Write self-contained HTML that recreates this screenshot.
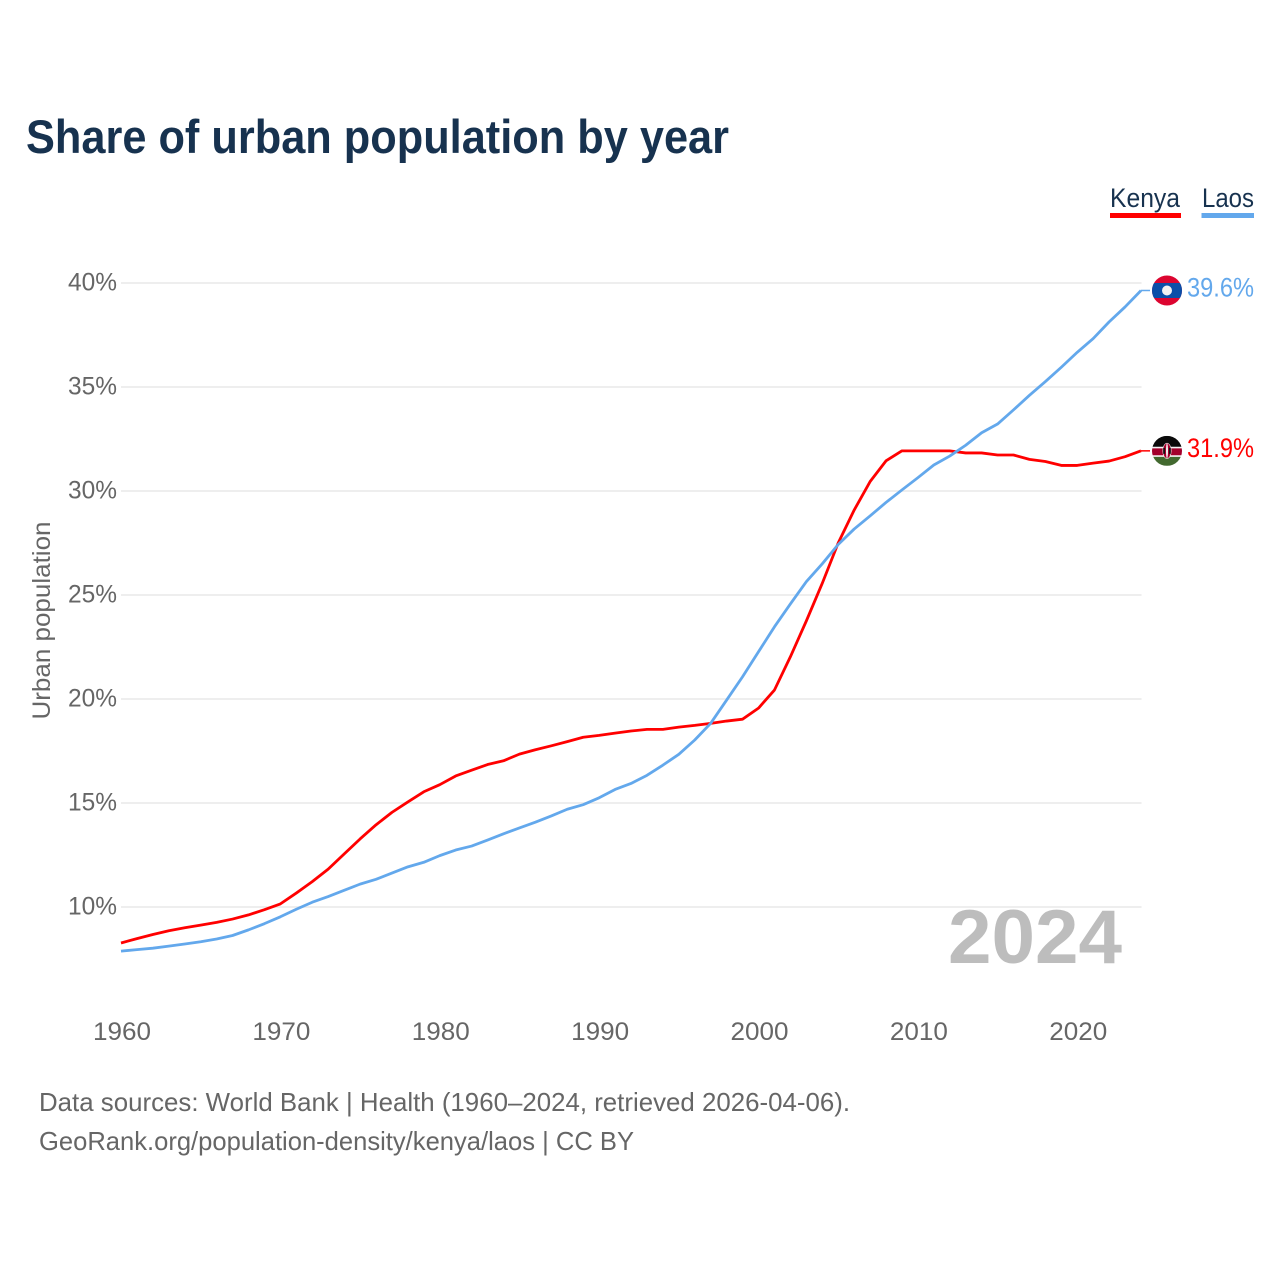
<!DOCTYPE html>
<html lang="en">
<head>
<meta charset="utf-8">
<title>Share of urban population by year</title>
<style>
html,body{margin:0;padding:0;background:#fff;}
svg{display:block;font-family:"Liberation Sans",sans-serif;}
</style>
</head>
<body>
<svg id="chart" xmlns="http://www.w3.org/2000/svg" width="1280" height="1280" viewBox="0 0 1280 1280">
  <rect x="0" y="0" width="1280" height="1280" fill="#fff"/>
  <text x="26" y="153" font-size="47" font-weight="700" fill="#17324f" textLength="703" lengthAdjust="spacingAndGlyphs">Share of urban population by year</text>

  <g>
    <text x="1110" y="207" font-size="27" fill="#17324f" textLength="70" lengthAdjust="spacingAndGlyphs">Kenya</text>
    <rect x="1110" y="213" width="71" height="5" fill="#ff0000"/>
  </g>
  <g>
    <text x="1202" y="207" font-size="27" fill="#17324f" textLength="52" lengthAdjust="spacingAndGlyphs">Laos</text>
    <rect x="1201.500" y="213" width="52.500" height="5" fill="#63a8ec"/>
  </g>

  <g id="grid"></g>
  <g id="y-ticks"></g>
  <g id="x-ticks"></g>

  <text transform="translate(50,620.500) rotate(-90)" text-anchor="middle" font-size="25" fill="#666" textLength="198" lengthAdjust="spacingAndGlyphs">Urban population</text>
  <text x="948" y="963" font-size="76" font-weight="700" fill="#bdbdbd" textLength="174" lengthAdjust="spacingAndGlyphs">2024</text>

  <g id="series"></g>

  <defs>
    <clipPath id="clip-laos"><circle cx="0" cy="0" r="15"/></clipPath>
    <clipPath id="clip-kenya"><circle cx="0" cy="0" r="15"/></clipPath>
  </defs>

  <g id="flag-laos" clip-path="url(#clip-laos)">
    <rect x="-15" y="-15" width="30" height="30" fill="#dc0530"/>
    <rect x="-15" y="-7.500" width="30" height="15" fill="#0a4fa8"/>
    <circle cx="0" cy="0" r="5" fill="#f2f2f2"/>
  </g>
  <g id="flag-kenya" clip-path="url(#clip-kenya)">
    <rect x="-15" y="-15" width="30" height="11" fill="#0a0a0a"/>
    <rect x="-15" y="-4" width="30" height="1.500" fill="#f4f4f4"/>
    <rect x="-15" y="-2.500" width="30" height="7" fill="#a3002c"/>
    <rect x="-15" y="4.500" width="30" height="1.500" fill="#f4f4f4"/>
    <rect x="-15" y="6" width="30" height="9" fill="#42692f"/>
    <ellipse cx="0" cy="0" rx="4.500" ry="8" fill="#f4f4f4"/>
    <ellipse cx="0" cy="0" rx="3.800" ry="7.500" fill="#a3002c"/>
    <ellipse cx="0" cy="0" rx="1" ry="7.500" fill="#f4f4f4"/>
    <rect x="-3.800" y="-3" width="1.800" height="6" fill="#111"/>
    <rect x="2" y="-3" width="1.800" height="6" fill="#111"/>
  </g>

  <text x="39" y="1111" font-size="26" fill="#666" textLength="811" lengthAdjust="spacingAndGlyphs">Data sources: World Bank | Health (1960–2024, retrieved 2026-04-06).</text>
  <a><text x="39" y="1150" font-size="26" fill="#666" textLength="595" lengthAdjust="spacingAndGlyphs">GeoRank.org/population-density/kenya/laos | CC BY</text></a>
</svg>

<script>
const years = [1960,1961,1962,1963,1964,1965,1966,1967,1968,1969,1970,1971,1972,1973,1974,1975,1976,1977,1978,1979,1980,1981,1982,1983,1984,1985,1986,1987,1988,1989,1990,1991,1992,1993,1994,1995,1996,1997,1998,1999,2000,2001,2002,2003,2004,2005,2006,2007,2008,2009,2010,2011,2012,2013,2014,2015,2016,2017,2018,2019,2020,2021,2022,2023,2024];
const kenyaValues = [8.27,8.48,8.68,8.86,9.0,9.13,9.26,9.42,9.62,9.87,10.15,10.67,11.22,11.82,12.55,13.27,13.95,14.55,15.05,15.54,15.88,16.3,16.58,16.85,17.03,17.35,17.56,17.75,17.95,18.16,18.25,18.36,18.46,18.54,18.54,18.65,18.73,18.83,18.94,19.03,19.56,20.43,22.03,23.75,25.56,27.5,29.08,30.45,31.45,31.93,31.93,31.93,31.93,31.83,31.83,31.73,31.73,31.52,31.42,31.23,31.23,31.34,31.44,31.65,31.93];
const laosValues = [7.88,7.95,8.02,8.12,8.22,8.33,8.46,8.63,8.9,9.2,9.53,9.89,10.23,10.5,10.8,11.1,11.33,11.63,11.93,12.15,12.47,12.74,12.93,13.22,13.52,13.8,14.08,14.38,14.7,14.92,15.25,15.65,15.94,16.33,16.82,17.34,18.03,18.83,19.95,21.07,22.27,23.47,24.57,25.64,26.5,27.43,28.17,28.8,29.45,30.05,30.64,31.25,31.68,32.2,32.8,33.22,33.9,34.6,35.26,35.95,36.67,37.33,38.13,38.85,39.64];
const yTickValues = [10,15,20,25,30,35,40];
const xTickValues = [1960,1970,1980,1990,2000,2010,2020];

const NS = 'http://www.w3.org/2000/svg';
function xScale(year){ return 121 + (year - 1960) * (1141 - 121) / 64; }
function yScale(v){ return 907 - (v - 10) * 20.8; }

const grid = document.getElementById('grid');
const yTicks = document.getElementById('y-ticks');
const xTicks = document.getElementById('x-ticks');
const series = document.getElementById('series');

yTickValues.forEach(function(v){
  const line = document.createElementNS(NS,'line');
  
  
  line.setAttribute('x1', 121);
  line.setAttribute('x2', 1141.500);
  line.setAttribute('y1', yScale(v));
  line.setAttribute('y2', yScale(v));
  line.setAttribute('stroke', '#eeeeee');
  line.setAttribute('stroke-width', 2);
  grid.appendChild(line);
  const label = document.createElementNS(NS,'text');
  
  
  label.setAttribute('x', 68);
  label.setAttribute('y', yScale(v) + 7.500);
  label.setAttribute('font-size', 25);
  label.setAttribute('fill', '#666');
  label.setAttribute('textLength', 49);
  label.setAttribute('lengthAdjust', 'spacingAndGlyphs');
  label.textContent = v + '%';
  yTicks.appendChild(label);
});

xTickValues.forEach(function(year){
  const label = document.createElementNS(NS,'text');
  
  
  label.setAttribute('x', xScale(year) - 28);
  label.setAttribute('y', 1040);
  label.setAttribute('font-size', 25);
  label.setAttribute('fill', '#666');
  label.setAttribute('textLength', 58);
  label.setAttribute('lengthAdjust', 'spacingAndGlyphs');
  label.textContent = String(year);
  xTicks.appendChild(label);
});

function drawLine(values, color, name){
  const path = document.createElementNS(NS,'polyline');
  
  
  const pts = values.map(function(v,i){ return xScale(years[i]).toFixed(2) + ',' + yScale(v).toFixed(2); });
  path.setAttribute('points', pts.join(' '));
  path.setAttribute('fill', 'none');
  path.setAttribute('stroke', color);
  path.setAttribute('stroke-width', 2.800);
  path.setAttribute('stroke-linejoin', 'round');
  series.appendChild(path);
  const last = values[values.length - 1];
  const leader = document.createElementNS(NS,'line');
  
  
  leader.setAttribute('x1', xScale(years[years.length - 1]));
  leader.setAttribute('x2', xScale(years[years.length - 1]) + 9);
  leader.setAttribute('y1', yScale(last));
  leader.setAttribute('y2', yScale(last));
  leader.setAttribute('stroke', color);
  leader.setAttribute('stroke-width', 1.500);
  series.appendChild(leader);
}
drawLine(kenyaValues, '#ff0000', 'kenya-line');
drawLine(laosValues, '#63a8ec', 'laos-line');

function endLabel(values, color, name, flagId){
  const last = values[values.length - 1];
  const y = yScale(last);
  document.getElementById(flagId).setAttribute('transform', 'translate(1167,' + y.toFixed(2) + ')');
  const label = document.createElementNS(NS,'text');
  
  
  label.setAttribute('x', 1187);
  label.setAttribute('y', y + 6);
  label.setAttribute('font-size', 27);
  label.setAttribute('fill', color);
  label.setAttribute('textLength', 67);
  label.setAttribute('lengthAdjust', 'spacingAndGlyphs');
  label.textContent = last.toFixed(1) + '%';
  document.getElementById('chart').appendChild(label);
}
endLabel(kenyaValues, '#ff0000', 'kenya-end-label', 'flag-kenya');
endLabel(laosValues, '#63a8ec', 'laos-end-label', 'flag-laos');
</script>
</body>
</html>
